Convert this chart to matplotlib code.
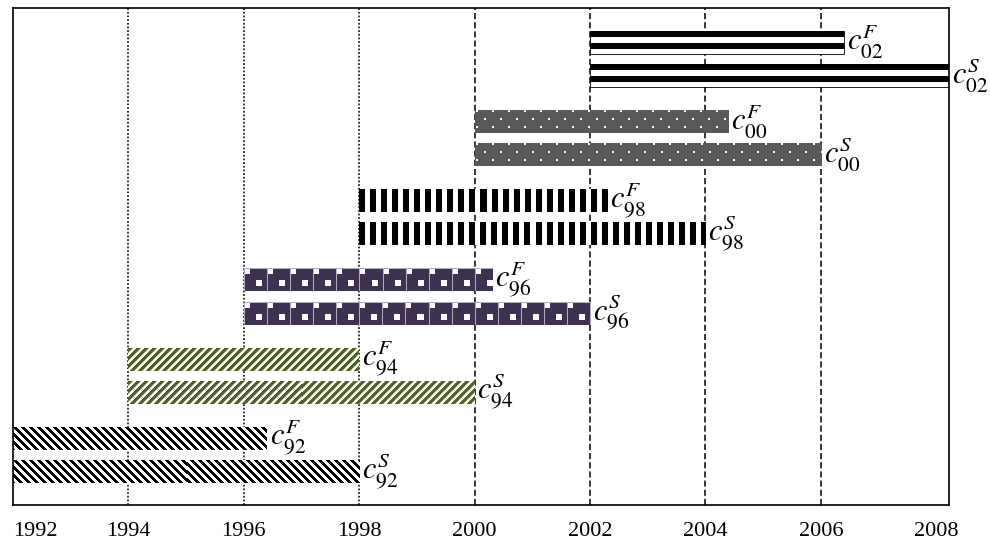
import numpy as np
import matplotlib.pyplot as plt

plt.rcParams['mathtext.fontset'] = 'stix'

# cohorts (start year) and the end of the F / S spells
cohorts = ['92', '94', '96', '98', '00', '02']
starts = [1992, 1994, 1996, 1998, 2000, 2002]
end_f = [1996.4, 1998.0, 2000.3, 2002.3, 2004.4, 2006.4]
end_s = [1998.0, 2000.0, 2002.0, 2004.0, 2006.0, 2008.22]
textures = ['bslash', 'slash', 'tiles', 'vbars', 'dots', 'hstripes']
tick_years = list(range(1992, 2009, 2))


def paint(img, mask, color):
    mask = np.broadcast_to(mask, img.shape[:2])
    img[mask] = color


def make_texture(kind, w, h):
    r = np.arange(h)[:, None]
    c = np.arange(w)[None, :]
    img = np.ones((h, w, 3))
    if kind == 'hstripes':
        paint(img, (r % 12) < 6, (0, 0, 0))
    elif kind == 'dots':
        img[:] = np.array([0x59, 0x59, 0x59]) / 255
        m = ((r % 8) < 2) & (((c - 1 + 8 * ((r // 8) % 2)) % 16) < 2)
        paint(img, m, (1, 1, 1))
    elif kind == 'vbars':
        paint(img, (c % 11) < 6, (0, 0, 0))
    elif kind == 'tiles':
        img[:] = np.array([0x3f, 0x31, 0x51]) / 255
        cc, rr = c % 23, r % 23
        paint(img, (cc == 0) | (rr == 0), np.array([0xb0, 0xac, 0xb8]) / 255)
        paint(img, (cc >= 1) & (cc <= 5) & (rr >= 1) & (rr <= 5), (1, 1, 1))
        paint(img, (cc >= 12) & (cc <= 17) & (rr >= 12) & (rr <= 17), (1, 1, 1))
    elif kind == 'slash':
        k = (c + r) % 8
        paint(img, k < 4, np.array([0x4f, 0x62, 0x28]) / 255)
        paint(img, k == 4, np.array([0xa9, 0xb4, 0x8e]) / 255)
    elif kind == 'bslash':
        paint(img, ((c - r) % 8) < 4, (0, 0, 0))
    return img


fig = plt.figure(figsize=(9.9, 5.48), dpi=100)
ax = fig.add_axes([13 / 990, 43 / 548, 936 / 990, 497 / 548])
ax.set_xlim(1992, 2008.22)
ax.set_ylim(-0.633, 5.642)

# grid: dotted before 2000, dashed afterwards
for yr in tick_years[1:-1]:
    ls = (0, (1.2, 1.2)) if yr < 2000 else (0, (4, 2))
    ax.axvline(yr, color='black', lw=1.1, linestyle=ls, zorder=1)

pos = np.arange(len(cohorts))
bar_h = 0.29
for spell, ends, dy in [('F', end_f, 0.21), ('S', end_s, -0.21)]:
    widths = np.array(ends) - np.array(starts)
    bars = ax.barh(pos + dy, widths, left=starts, height=bar_h,
                   color='none', edgecolor='none', zorder=3)
    for i, patch in enumerate(bars.patches):
        x0, y0 = patch.get_x(), patch.get_y()
        x1, y1 = x0 + patch.get_width(), y0 + patch.get_height()
        (px0, py0), (px1, py1) = ax.transData.transform([(x0, y0), (x1, y1)])
        w = max(int(round(px1 - px0)), 1)
        h = max(int(round(py1 - py0)), 1)
        im = ax.imshow(make_texture(textures[i], w, h), extent=(x0, x1, y0, y1),
                       aspect='auto', interpolation='nearest', origin='upper', zorder=2)
        im.set_clip_path(patch)
        if textures[i] == 'hstripes':
            patch.set_edgecolor('black')
            patch.set_linewidth(0.6)
        ax.annotate(rf'$c^{{{spell}}}_{{{cohorts[i]}}}$', xy=(x1, pos[i] + dy),
                    xytext=(2, 0), textcoords='offset points',
                    ha='left', va='center', fontsize=22, annotation_clip=False)

ax.set_xlim(1992, 2008.22)
ax.set_ylim(-0.633, 5.642)
ax.set_yticks([])
ax.set_xticks(tick_years)
ax.set_xticklabels([str(y) for y in tick_years], fontfamily='Liberation Serif', fontsize=16)
ax.get_xticklabels()[0].set_ha('left')
ax.tick_params(axis='x', length=0, pad=12)
for s in ax.spines.values():
    s.set_linewidth(1.2)
    s.set_zorder(4)

fig.savefig('out.png', dpi=100)
